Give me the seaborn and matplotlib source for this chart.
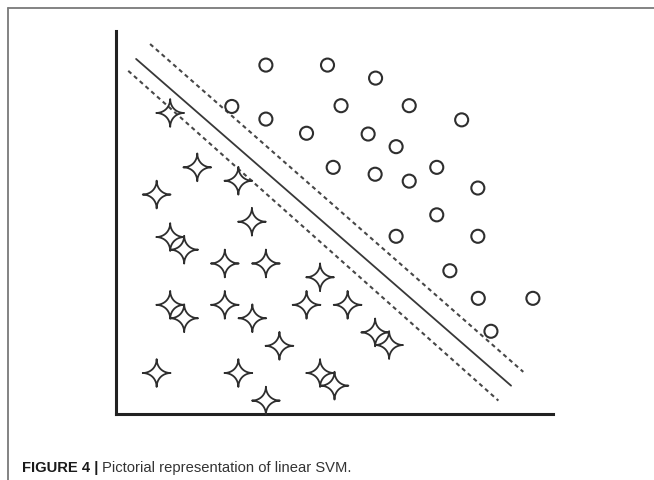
import numpy as np
import pandas as pd
import matplotlib
matplotlib.use("Agg")
import matplotlib.pyplot as plt
import seaborn as sns
from matplotlib.path import Path
from matplotlib.lines import Line2D

# ---- data (arbitrary 0-10 units) ----
circle_x = [3.43, 4.84, 5.94, 2.65, 3.43, 5.15, 6.71, 7.91, 4.36, 5.77, 6.41, 4.97,
            5.93, 6.71, 7.34, 8.28, 7.34, 6.41, 8.28, 7.64, 8.29, 9.54, 8.58]
circle_y = [9.11, 9.11, 8.77, 8.03, 7.70, 8.05, 8.05, 7.68, 7.33, 7.31, 6.98, 6.44,
            6.26, 6.08, 6.44, 5.90, 5.20, 4.64, 4.64, 3.74, 3.02, 3.02, 2.16]
star_x = [1.24, 1.86, 2.80, 0.93, 3.11, 1.24, 1.56, 2.49, 3.43, 4.67, 1.24, 1.56,
          2.49, 3.12, 4.36, 5.30, 3.74, 5.93, 6.25, 0.93, 2.80, 4.67, 5.00, 3.43]
star_y = [7.86, 6.44, 6.09, 5.73, 5.02, 4.62, 4.29, 3.93, 3.93, 3.57, 2.85, 2.50,
          2.85, 2.50, 2.85, 2.85, 1.78, 2.13, 1.80, 1.07, 1.07, 1.07, 0.74, 0.35]
solid_x = [0.46, 9.04]
solid_y = [9.27, 0.74]
upper_x = [0.78, 9.32]
upper_y = [9.66, 1.10]
lower_x = [0.28, 8.75]
lower_y = [8.96, 0.35]
caption_bold = "FIGURE 4 |"
caption_text = "Pictorial representation of linear SVM."

sns.set_theme(style="white")
plt.rcParams["font.family"] = ["Liberation Sans", "DejaVu Sans"]

# 4-point star marker with concave sides
t = np.linspace(0, 2 * np.pi, 201)
e = 3.6
sx = np.sign(np.cos(t)) * np.abs(np.cos(t)) ** e
sy = np.sign(np.sin(t)) * np.abs(np.sin(t)) ** e
star_marker = Path(np.column_stack([sx, sy]), closed=True)

fig = plt.figure(figsize=(6.54, 4.81), dpi=100)
ax = fig.add_axes([116 / 654, 66 / 481, 437 / 654, 383 / 481])

ink = "#2e2e2e"
sns.lineplot(x=solid_x, y=solid_y, ax=ax, color="#383838", lw=1.3)
sns.lineplot(x=upper_x, y=upper_y, ax=ax, color="#474747", lw=1.5, linestyle=(0, (2.0, 1.7)))
sns.lineplot(x=lower_x, y=lower_y, ax=ax, color="#474747", lw=1.5, linestyle=(0, (2.0, 1.7)))

sns.scatterplot(x=circle_x, y=circle_y, ax=ax, marker="o", s=88,
                facecolor="none", edgecolor=ink, linewidth=1.5, clip_on=False, zorder=3)
sns.scatterplot(x=star_x, y=star_y, ax=ax, marker=star_marker, s=400,
                facecolor="none", edgecolor=ink, linewidth=1.3, clip_on=False, zorder=3)

ax.set_xlim(0, 10)
ax.set_ylim(0, 10)
ax.set_xticks([])
ax.set_yticks([])
ax.set_xlabel("")
ax.set_ylabel("")
for side in ["top", "right"]:
    ax.spines[side].set_visible(False)
for side in ["left", "bottom"]:
    ax.spines[side].set_color("#222222")
    ax.spines[side].set_linewidth(2.2)
    ax.spines[side].set_capstyle("projecting")
ax.set_facecolor("none")

# page frame (top and left rules)
fig.add_artist(Line2D([7.5 / 654, 1], [1 - 8.5 / 481] * 2, transform=fig.transFigure,
                      color="#7a7a7a", lw=1.3))
fig.add_artist(Line2D([7.5 / 654] * 2, [0, 1 - 8.5 / 481], transform=fig.transFigure,
                      color="#7a7a7a", lw=1.3))

# caption
fs = 10.6
yb = (481 - 472) / 481
tb = fig.text(22 / 654, yb, caption_bold, fontsize=fs, fontweight="bold",
              color="#1a1a1a", va="baseline", ha="left")
fig.canvas.draw()
bb = tb.get_window_extent()
fig.text((bb.x1 + 4) / 654, yb, caption_text, fontsize=fs, color="#333333",
         va="baseline", ha="left")

fig.savefig("out.png", dpi=100)
